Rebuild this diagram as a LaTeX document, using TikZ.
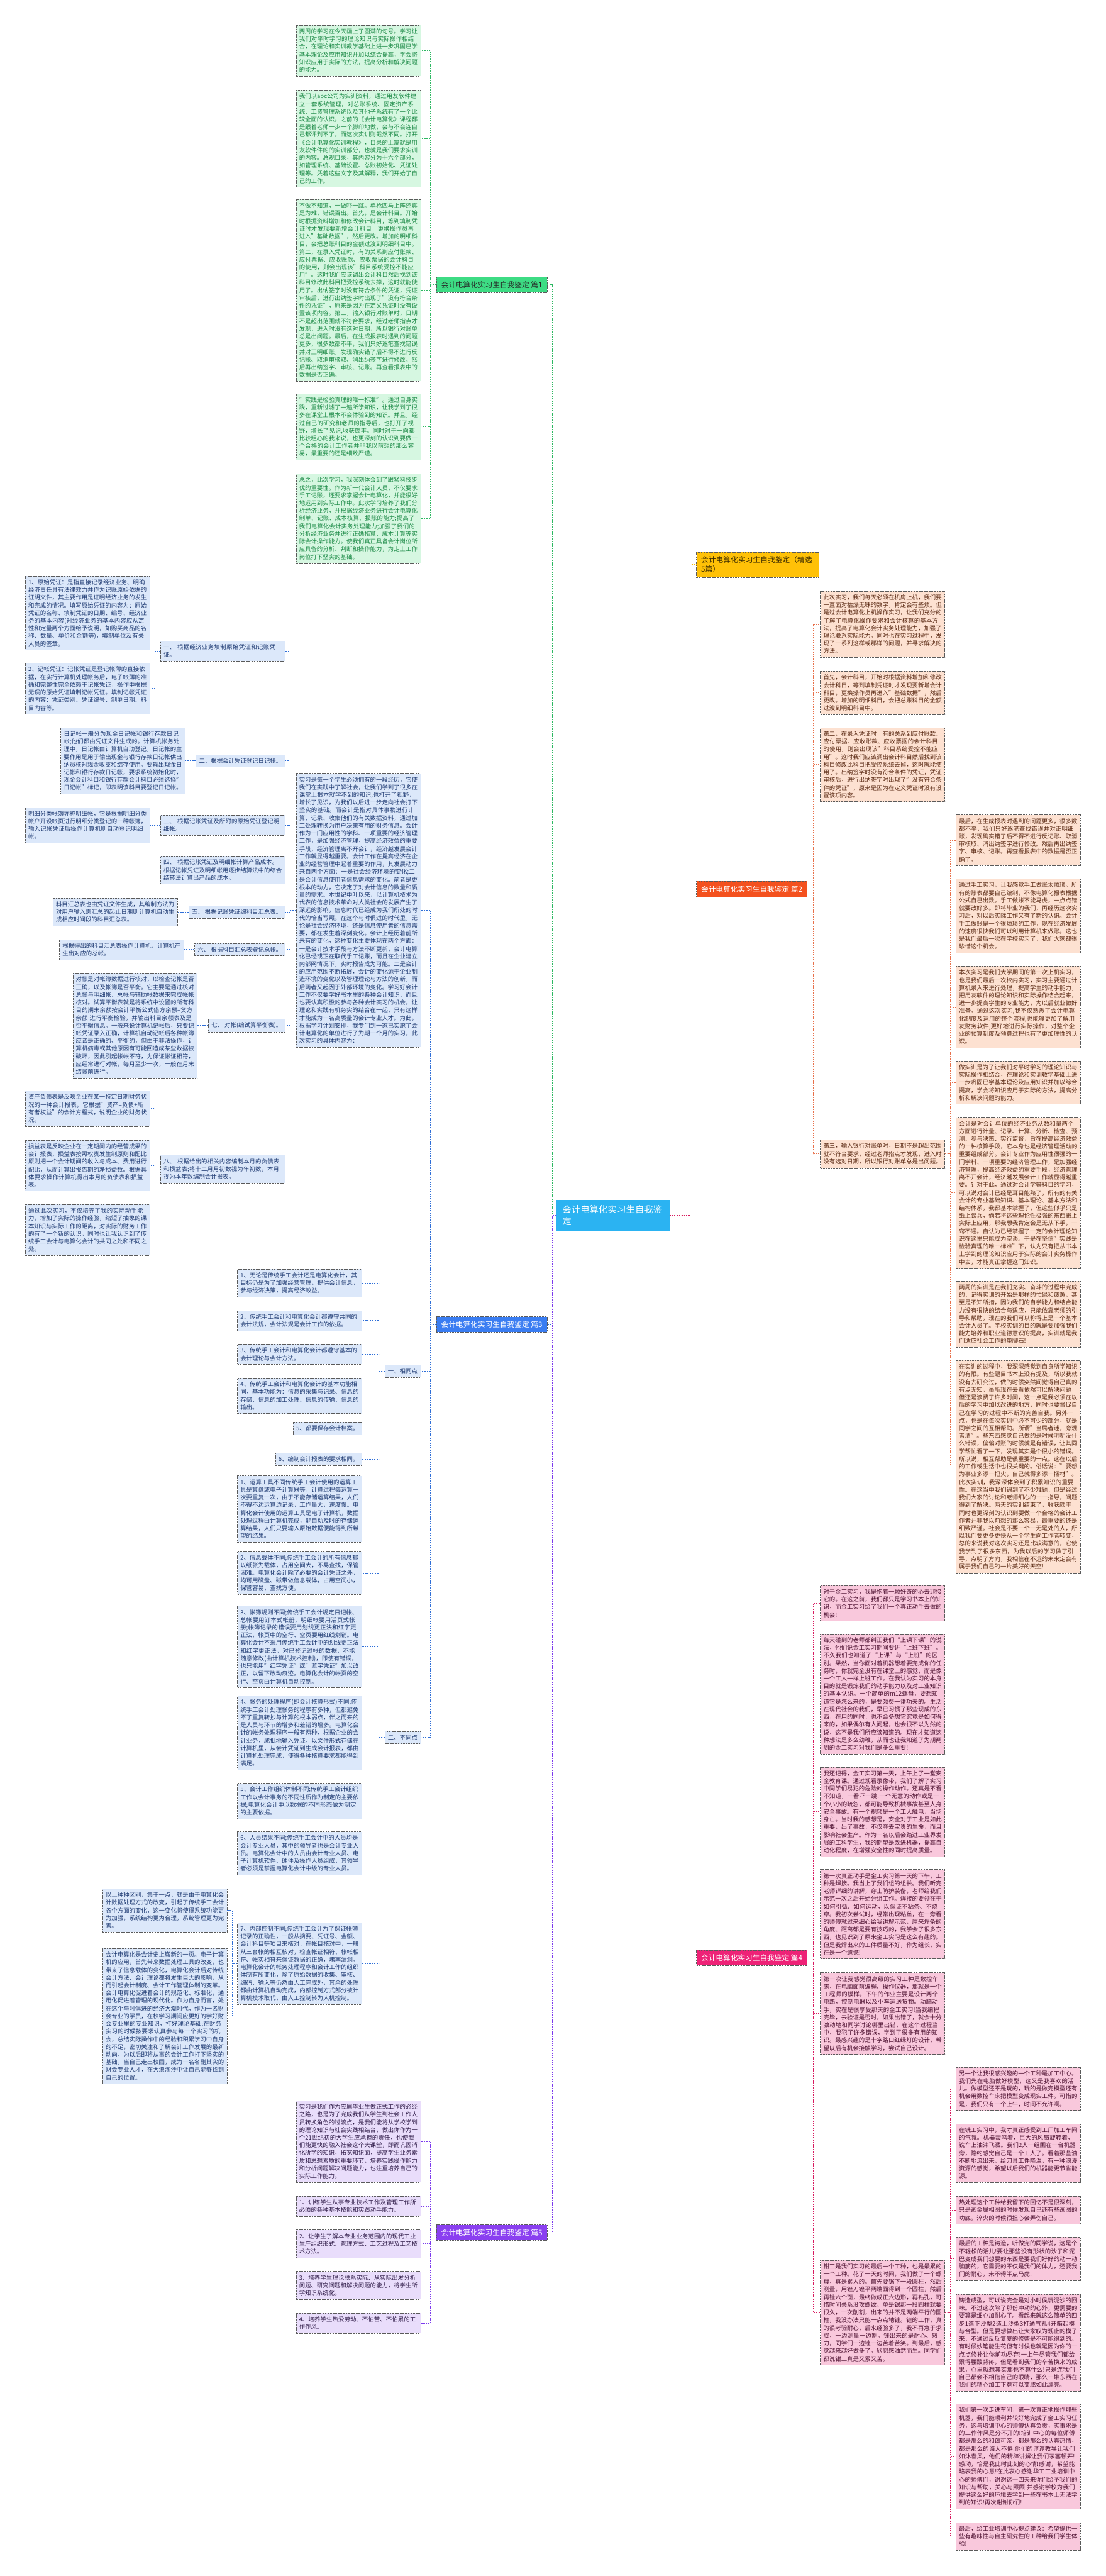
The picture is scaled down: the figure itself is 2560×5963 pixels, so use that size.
\documentclass[tikz,border=0pt]{standalone}
\usepackage{fontspec}
\setmainfont{Noto Sans CJK SC}
\XeTeXlinebreaklocale "zh"
\XeTeXlinebreakskip=0pt plus 1pt
\usetikzlibrary{positioning}
\definecolor{RootSky}{HTML}{2BB3F2}
\definecolor{EdgeGrey}{HTML}{5A5A5A}
\definecolor{GreenTopic}{HTML}{3DDC84}
\definecolor{GreenPale}{HTML}{D6F7E1}
\definecolor{GreenInk}{HTML}{1B8A46}
\definecolor{GreenWire}{HTML}{2DB862}
\definecolor{BlueTopic}{HTML}{3A7DF2}
\definecolor{BluePale}{HTML}{DCE8FA}
\definecolor{BlueInk}{HTML}{1F3B73}
\definecolor{BlueWire}{HTML}{2F6FD8}
\definecolor{VioTopic}{HTML}{8A3FF0}
\definecolor{VioPale}{HTML}{E9DDFB}
\definecolor{VioInk}{HTML}{2E1A47}
\definecolor{VioWire}{HTML}{7C3AED}
\definecolor{GoldTopic}{HTML}{FFC107}
\definecolor{GoldInk}{HTML}{3A2A00}
\definecolor{GoldWire}{HTML}{F2B705}
\definecolor{RustTopic}{HTML}{F4511E}
\definecolor{RustPale}{HTML}{FDE1D1}
\definecolor{RustInk}{HTML}{5B2A14}
\definecolor{RustWire}{HTML}{E8704A}
\definecolor{RoseTopic}{HTML}{EE2277}
\definecolor{RosePale}{HTML}{F9C8DC}
\definecolor{RoseInk}{HTML}{4D1030}
\definecolor{RoseWire}{HTML}{D81B60}
\tikzset{
  every node/.style={font=\fontsize{13.7}{17.8}\selectfont},
  leaf/.style={draw=EdgeGrey, dash pattern=on 4pt off 2pt, line width=0.8pt, inner xsep=7pt, inner ysep=8pt, align=left},
  wide/.style={text width=274pt},
  topic/.style={draw=EdgeGrey, dash pattern=on 4pt off 2pt, line width=0.8pt, font=\fontsize{17}{22}\selectfont, inner xsep=11pt, inner ysep=10pt, align=left},
  rootbox/.style={fill=RootSky, text=white, font=\fontsize{21}{28}\selectfont, inner xsep=14pt, inner ysep=12pt, text width=234pt, align=left},
  wire/.style={line width=1.3pt, dash pattern=on 3pt off 2.5pt},
  gleaf/.style={leaf, fill=GreenPale, text=GreenInk},
  bleaf/.style={leaf, fill=BluePale, text=BlueInk},
  vleaf/.style={leaf, fill=VioPale, text=VioInk},
  oleaf/.style={leaf, fill=RustPale, text=RustInk},
  pleaf/.style={leaf, fill=RosePale, text=RoseInk},
  gwire/.style={wire, draw=GreenWire},
  bwire/.style={wire, draw=BlueWire},
  vwire/.style={wire, draw=VioWire},
  ywire/.style={wire, draw=GoldWire},
  owire/.style={wire, draw=RustWire},
  pwire/.style={wire, draw=RoseWire},
}
\begin{document}
\begin{tikzpicture}[x=1pt,y=-1pt]
  \fill[white] (0,0) rectangle (2560,5963);
  \useasboundingbox (0,0) rectangle (2560,5963);
  % Root
  \node[rootbox] (root) at (1419,2813) {会计电算化实习生自我鉴定};
  % Topics
  \node[topic, fill=GreenTopic, text=black!85, anchor=east] (p1) at (1267,659) {会计电算化实习生自我鉴定 篇1};
  \node[topic, fill=BlueTopic, text=white, anchor=east] (p3) at (1267,3066) {会计电算化实习生自我鉴定 篇3};
  \node[topic, fill=VioTopic, text=white, anchor=east] (p5) at (1267,5168) {会计电算化实习生自我鉴定 篇5};
  \node[topic, fill=GoldTopic, text=GoldInk, text width=262pt, anchor=west] (pJ) at (1612,1307) {会计电算化实习生自我鉴定（精选5篇）};
  \node[topic, fill=RustTopic, text=white, anchor=west] (p2) at (1612,2058) {会计电算化实习生自我鉴定 篇2};
  \node[topic, fill=RoseTopic, text=white, anchor=west] (p4) at (1612,4532) {会计电算化实习生自我鉴定 篇4};
  \draw[gwire] (root.west) -- ++(-9,0) |- (p1.east);
  \draw[bwire] (root.west) -- ++(-9,0) |- (p3.east);
  \draw[vwire] (root.west) -- ++(-9,0) |- (p5.east);
  \draw[ywire] (root.east) -- ++(47,0) |- (pJ.west);
  \draw[owire] (root.east) -- ++(47,0) |- (p2.west);
  \draw[pwire] (root.east) -- ++(47,0) |- (p4.west);

  % Branch 1
  \node[gleaf, wide, anchor=east] (g1) at (974,117) {两周的学习在今天画上了圆满的句号。学习让我们对平时学习的理论知识与实际操作相结合，在理论和实训教学基础上进一步巩固已学基本理论及应用知识并加以综合提高，学会将知识应用于实际的方法，提高分析和解决问题的能力。};
  \node[gleaf, wide, anchor=east] (g2) at (974,321) {我们以abc公司为实训资料，通过用友软件建立一套系统管理，对总账系统、固定资产系统、工资管理系统以及其他子系统有了一个比较全面的认识。之前的《会计电算化》课程都是跟着老师一步一个脚印地做，会与不会连自己都评判不了，而这次实训则截然不同。打开《会计电算化实训教程》，目录的上篇就是用友软件件的的实训部分，也就是我们要求实训的内容。总观目录，其内容分为十六个部分，如管理系统、基础设置、总账初始化、凭证处理等。凭着这些文字及其解释，我们开始了自己的工作。};
  \node[gleaf, wide, anchor=east] (g3) at (974,672) {不做不知道，一做吓一跳。单枪匹马上阵还真是为难，错误百出。首先，是会计科目。开始时根据资料增加和修改会计科目，等到填制凭证时才发现要新增会计科目，更换操作员再进入"基础数据"，然后更改。增加的明细科目，会把总账科目的金额过渡到明细科目中。第二，在录入凭证时，有的关系到应付账款、应付票据、应收账款、应收票据的会计科目的使用，则会出现该"科目系统受控不能应用"。这时我们应该调出会计科目然后找到该科目修改此科目把受控系统去掉，这时就能使用了。出纳签字时没有符合条件的凭证，凭证审核后，进行出纳签字时出现了"没有符合条件的凭证"，原来是因为在定义凭证时没有设置该项内容。第三，输入银行对账单时，日期不是超出范围就不符合要求，经过老师指点才发现，进入时没有选对日期，所以银行对账单总是出问题。最后，在生成报表时遇到的问题更多，很多数都不平，我们只好逐笔查找错误并对正明细账，发现确实错了后不得不进行反记账、取消审核取、消出纳签字进行修改。然后再出纳签字、审核、记账。再查看报表中的数据是否正确。};
  \node[gleaf, wide, anchor=east] (g4) at (974,988) {"实践是检验真理的唯一标准"。通过自身实践，重新过滤了一遍所学知识，让我学到了很多在课堂上根本不会体验到的知识。并且，经过自己的研究和老师的指导后，也打开了视野，增长了见识,收获颇丰。同时对于一向都比较粗心的我来说，也更深刻的认识到要做一个合格的会计工作者并非我以前想的那么容易，最重要的还是细致严谨。};
  \node[gleaf, wide, anchor=east] (g5) at (974,1200) {总之，此次学习，我深刻体会到了跟紧科技步伐的重要性。作为新一代会计人员，不仅要求手工记账，还要求掌握会计电算化，并能很好地运用到实际工作中。此次学习培养了我们分析经济业务，并根据经济业务进行会计电算化制单、记账、成本核算、报账的能力;提高了我们电算化会计实务处理能力;加强了我们的分析经济业务并进行正确核算、成本计算等实际会计操作能力。使我们真正具备会计岗位所应具备的分析、判断和操作能力，为走上工作岗位打下坚实的基础。};
  \foreach \c in {g1,g2,g3,g4,g5}
    \draw[gwire] (p1.west) -- ++(-13,0) |- (\c.east);

  % Branch 3
  \node[bleaf, wide, anchor=east] (bA) at (974,2107) {实习是每一个学生必须拥有的一段经历，它使我们在实践中了解社会，让我们学到了很多在课堂上根本就学不到的知识,也打开了视野，增长了见识，为我们以后进一步走向社会打下坚实的基础。而会计是指对具体事物进行计算、记录、收集他们的有关数据资料，通过加工处理转换为用户决策有用的财务信息。会计作为一门应用性的学科、一项重要的经济管理工作，是加强经济管理，提高经济效益的重要手段，经济管理离不开会计，经济越发展会计工作就显得越重要。会计工作在提高经济在企业的经营管理中起着重要的作用，其发展动力来自两个方面：一是社会经济环境的变化;二是会计信息使用者信息需求的变化。前者是更根本的动力，它决定了对会计信息的数量和质量的需求。本世纪中叶以来，以计算机技术为代表的信息技术革命对人类社会的发展产生了深远的影响，信息时代已经成为我们所处的时代的恰当写照。在这个与时俱进的时代里，无论是社会经济环境，还是信息使用者的信息需要，都在发生着深刻变化。会计上经历着前所未有的变化，这种变化主要体现在两个方面：一是会计技术手段与方法不断更新，会计电算化已经或正在取代手工记账，而且在企业建立内部网情况下，实时报告成为可能。二是会计的应用范围不断拓展，会计的变化源于企业制造环境的变化以及管理理论与方法的创新，而后两者又起因于外部环境的变化。学习好会计工作不仅要学好书本里的各种会计知识，而且也要认真积极的参与各种会计实习的机会，让理论和实践有机务实的结合在一起，只有这样才能成为一名高质量的会计专业人才。为此，根据学习计划安排，我专门到一家已实施了会计电算化的单位进行了为期一个月的实习，此次实习的具体内容为：};
  \node[bleaf, anchor=east] (bS) at (974,3174) {一、相同点};
  \node[bleaf, anchor=east] (bD) at (974,4022) {二、不同点};
  \foreach \c in {bA,bS,bD}
    \draw[bwire] (p3.west) -- ++(-13,0) |- (\c.east);
  % Items of the practice
  \node[bleaf, wide, anchor=east] (b1) at (660,1507) {一、 根据经济业务填制原始凭证和记账凭证。};
  \node[bleaf, anchor=east] (b2) at (660,1761) {二、根据会计凭证登记日记帐。};
  \node[bleaf, wide, anchor=east] (b3) at (660,1910) {三、 根据记账凭证及所附的原始凭证登记明细帐。};
  \node[bleaf, wide, anchor=east] (b4) at (660,2014) {四、 根据记账凭证及明细帐计算产品成本。\\根据记帐凭证及明细帐用逐步结算法中的综合结转法计算出产品的成本。};
  \node[bleaf, anchor=east] (b5) at (660,2111) {五、 根据记账凭证编科目汇总表。};
  \node[bleaf, anchor=east] (b6) at (660,2198) {六、 根据科目汇总表登记总帐。};
  \node[bleaf, anchor=east] (b7) at (660,2374) {七、 对帐(编试算平衡表)。};
  \node[bleaf, wide, anchor=east] (b8) at (660,2706) {八、 根据给出的相关内容编制本月的负债表和损益表;将十二月月初数视为年初数，本月视为本年数编制会计报表。};
  \foreach \c in {b1,b2,b3,b4,b5,b6,b7,b8}
    \draw[bwire] (bA.west) -- ++(-13,0) |- (\c.east);
  \node[bleaf, wide, anchor=east] (b11) at (347,1419) {1、原始凭证：是指直接记录经济业务、明确经济责任具有法律效力并作为记账原始依据的证明文件，其主要作用是证明经济业务的发生和完成的情况。填写原始凭证的内容为：原始凭证的名称、填制凭证的日期、编号、经济业务的基本内容(对经济业务的基本内容应从定性和定量两个方面给予说明，如购买商品的名称、数量、单价和金额等)，填制单位及有关人员的签章。};
  \node[bleaf, wide, anchor=east] (b12) at (347,1594) {2、记帐凭证：记帐凭证是登记帐薄的直接依据，在实行计算机处理帐务后，电子帐薄的准确和完整性完全依赖于记帐凭证，操作中根据无误的原始凭证填制记帐凭证。填制记帐凭证的内容：凭证类别、凭证编号、制单日期、科目内容等。};
  \foreach \c in {b11,b12}
    \draw[bwire] (b1.west) -- ++(-12,0) |- (\c.east);
  \node[bleaf, wide, anchor=east] (b21) at (429,1761) {日记帐一般分为现金日记帐和银行存款日记帐;他们都由凭证文件生成的。计算机帐务处理中，日记帐由计算机自动登记，日记帐的主要作用是用于输出现金与银行存款日记帐供出纳员核对现金收支和结存使用。要输出现金日记帐和银行存款日记帐，要求系统初始化时，现金会计科目和银行存款会计科目必须选择"日记帐"标记，即表明该科目要登记日记帐。};
  \draw[bwire] (b2.west) -- (b21.east);
  \node[bleaf, wide, anchor=east] (b31) at (347,1910) {明细分类帐簿亦称明细帐，它是根据明细分类帐户开设帐页进行明细分类登记的一种帐簿，输入记帐凭证后操作计算机则自动登记明细帐。};
  \draw[bwire] (b3.west) -- (b31.east);
  \node[bleaf, wide, anchor=east] (b51) at (411,2111) {科目汇总表也由凭证文件生成，其编制方法为对用户输入需汇总的起止日期则计算机自动生成相应时间段的科目汇总表。};
  \draw[bwire] (b5.west) -- (b51.east);
  \node[bleaf, wide, anchor=east] (b61) at (426,2198) {根据得出的科目汇总表操作计算机，计算机产生出对应的总帐。};
  \draw[bwire] (b6.west) -- (b61.east);
  \node[bleaf, wide, anchor=east] (b71) at (457,2374) {对帐是对帐簿数据进行核对，以检查记帐是否正确，以及帐簿是否平衡。它主要是通过核对总帐与明细帐、总帐与辅助帐数据来完成帐帐核对。试算平衡表就是将系统中设置的所有科目的期末余额按会计平衡公式借方余额=贷方余额 进行平衡检验，并输出科目余额表及是否平衡信息。一般来说计算机记帐后，只要记帐凭证录入正确，计算机自动记帐后各种帐簿应该是正确的、平衡的，但由于非法操作，计算机病毒或其他原因有可能回造成某些数据被破坏，因此引起帐帐不符，为保证帐证相符，应经常进行对帐，每月至少一次，一般在月末结帐前进行。};
  \draw[bwire] (b7.west) -- (b71.east);
  \node[bleaf, wide, anchor=east] (b81) at (347,2566) {资产负债表是反映企业在某一特定日期财务状况的一种会计报表，它根据"资产=负债+所有者权益"的会计方程式，说明企业的财务状况。};
  \node[bleaf, wide, anchor=east] (b82) at (347,2698) {损益表是反映企业在一定期间内的经营成果的会计报表，损益表按照权责发生制原则和配比原则把一个会计期间的收入与成本、费用进行配比，从而计算出报告期的净损益数。根据具体要求操作计算机得出本月的负债表和损益表。};
  \node[bleaf, wide, anchor=east] (b83) at (347,2847) {通过此次实习，不仅培养了我的实际动手能力，增加了实际的操作经验，缩短了抽象的课本知识与实际工作的距离，对实际的财务工作的有了一个新的认识，同时也让我认识到了传统手工会计与电算化会计的共同之处和不同之处。};
  \foreach \c in {b81,b82,b83}
    \draw[bwire] (b8.west) -- ++(-12,0) |- (\c.east);
  % Common points
  \node[bleaf, wide, anchor=east] (s1) at (838,2970) {1、无论是传统手工会计还是电算化会计，其目标仍是为了加强经营管理，提供会计信息，参与经济决策，提高经济效益。};
  \node[bleaf, wide, anchor=east] (s2) at (838,3057) {2、传统手工会计和电算化会计都遵守共同的会计法规，会计法规是会计工作的依据。};
  \node[bleaf, wide, anchor=east] (s3) at (838,3135) {3、传统手工会计和电算化会计都遵守基本的会计理论与会计方法。};
  \node[bleaf, wide, anchor=east] (s4) at (838,3231) {4、传统手工会计和电算化会计的基本功能相同，基本功能为：信息的采集与记录、信息的存储、信息的加工处理、信息的传输、信息的输出。};
  \node[bleaf, anchor=east] (s5) at (838,3306) {5、都要保存会计档案。};
  \node[bleaf, anchor=east] (s6) at (838,3378) {6、编制会计报表的要求相同。};
  \foreach \c in {s1,s2,s3,s4,s5,s6}
    \draw[bwire] (bS.west) -- ++(-13,0) |- (\c.east);
  % Differences
  \node[bleaf, wide, anchor=east] (d1) at (838,3493) {1、运算工具不同传统手工会计使用的运算工具是算盘或电子计算器等，计算过程每运算一次要重复一次，由于不能存储运算结果，人们不得不边运算边记录，工作量大，速度慢。电算化会计使用的运算工具是电子计算机，数据处理过程由计算机完成，能自动及时的存储运算结果，人们只要输入原始数据便能得到所希望的结果。};
  \node[bleaf, wide, anchor=east] (d2) at (838,3641) {2、信息载体不同;传统手工会计的所有信息都以纸张为载体，占用空间大，不易查找，保管困难。电算化会计除了必要的会计凭证之外，均可用磁盘、磁带做信息载体，占用空间小，保管容易，查找方便。};
  \node[bleaf, wide, anchor=east] (d3) at (838,3812) {3、帐簿规则不同;传统手工会计规定日记帐、总帐要用订本式帐册，明细帐要用活页式帐册;帐簿记录的错误要用划线更正法和红字更正法，帐页中的空行、空页要用红线划销。电算化会计不采用传统手工会计中的划线更正法和红字更正法，对已登记过帐的数据，不能随意修改(由计算机技术控制)，即使有错误，也只能用"红字凭证"或"蓝字凭证"加以改正，以留下改动痕迹。电算化会计的帐页的空行、空页由计算机自动控制。};
  \node[bleaf, wide, anchor=east] (d4) at (838,4011) {4、帐务的处理程序(即会计核算形式)不同;传统手工会计处理帐务的程序有多种，但都避免不了重复转抄与计算的根本弱点，伴之而来的是人员与环节的增多和差错的增多。电算化会计的帐务处理程序一般有两种，根据企业的会计业务，成批地输入凭证，以文件形式存储在计算机里，从会计凭证到生成会计报表，都由计算机处理完成，使得各种核算要求都能得到满足。};
  \node[bleaf, wide, anchor=east] (d5) at (838,4169) {5、会计工作组织体制不同;传统手工会计组织工作以会计事务的不同性质作为制定的主要依据;电算化会计中以数据的不同形态做为制定的主要依据。};
  \node[bleaf, wide, anchor=east] (d6) at (838,4290) {6、人员结果不同;传统手工会计中的人员均是会计专业人员，其中的领导者也是会计专业人员。电算化会计中的人员由会计专业人员、电子计算机软件、硬件及操作人员组成，其领导者必须是掌握电算化会计中级的专业人员。};
  \node[bleaf, wide, anchor=east] (d7) at (838,4545) {7、内部控制不同;传统手工会计为了保证帐簿记录的正确性，一般从摘要、凭证号、金额、会计科目等项目来核对，在帐目核对中，一般从三套帐的相互核对，检查帐证相符、帐帐相符、帐实相符来保证数据的正确，堵塞漏洞。电算化会计的帐务处理程序和会计工作的组织体制有所变化，除了原始数据的收集、审核、编码、输入等仍然由人工完成外，其余的处理都由计算机自动完成，内部控制方式部分被计算机技术取代，由人工控制转为人机控制。};
  \foreach \c in {d1,d2,d3,d4,d5,d6,d7}
    \draw[bwire] (bD.west) -- ++(-13,0) |- (\c.east);
  \node[bleaf, wide, anchor=east] (d71) at (526,4422) {以上种种区别，集于一点，就是由于电算化会计数据处理方式的改变，引起了传统手工会计各个方面的变化，这一变化将使得系统功能更为加强，系统结构更为合理，系统管理更为完善。};
  \node[bleaf, wide, anchor=east] (d72) at (526,4667) {会计电算化是会计史上崭新的一页。电子计算机的应用，首先带来数据处理工具的改变，也带来了信息载体的变化，电算化会计后对传统会计方法、会计理论都将发生巨大的影响，从而引起会计制度、会计工作管理体制的变革。会计电算化促进着会计的规范化、标准化，通用化促进着管理的现代化。作为自身而言，处在这个与时俱进的经济大潮时代，作为一名财会专业的学员，在校学习期间应更好的学好财会专业里的专业知识，打好理论基础;在财务实习的时候按要求认真参与每一个实习的机会，总结实际操作中的经验和积累学习中自身的不足，密切关注和了解会计工作发展的最新动向，为以后即将从事的会计工作打下坚实的基础，当自己走出校园，成为一名名副其实的财会专业人才，在大浪淘沙中让自己能够找到自己的位置。};
  \foreach \c in {d71,d72}
    \draw[bwire] (d7.west) -- ++(-12,0) |- (\c.east);

  % Branch 5
  \node[vleaf, wide, anchor=east] (v1) at (974,4957) {实习是我们作为应届毕业生做正式工作的必经之路，也是为了完成我们从学生到社会工作人员转换角色的过渡点，是我们能将从学校学到的理论知识与社会实践相结合，做出你作为一个21世纪初的大学生应承担的责任，也使我们能更快的融入社会这个大课堂，即而巩固消化所学的知识，拓宽知识面，提高学生业务素质和思想素质的重要环节，培养实践操作能力和分析问题解决问题能力，也注重培养自己的实际工作能力。};
  \node[vleaf, wide, anchor=east] (v2) at (974,5107) {1、训练学生从事专业技术工作及管理工作所必须的各种基本技能和实践动手能力。};
  \node[vleaf, wide, anchor=east] (v3) at (974,5194) {2、让学生了解本专业业务范围内的现代工业生产组织形式、管理方式、工艺过程及工艺技术方法。};
  \node[vleaf, wide, anchor=east] (v4) at (974,5290) {3、培养学生理论联系实际、从实际出发分析问题、研究问题和解决问题的能力，将学生所学知识系统化。};
  \node[vleaf, wide, anchor=east] (v5) at (974,5378) {4、培养学生热爱劳动、不怕苦、不怕累的工作作风。};
  \foreach \c in {v1,v2,v3,v4,v5}
    \draw[vwire] (p5.west) -- ++(-13,0) |- (\c.east);

  % Branch 2
  \node[oleaf, wide, anchor=west] (c1) at (1899,1445) {此次实习，我们每天必须在机房上机，我们要一直面对枯燥无味的数字，肯定会有些烦。但是过会计电算化上机操作实习，让我们充分的了解了电算化操作要求和会计核算的基本方法，提高了电算化会计实务处理能力，加强了理论联系实际能力。同时也在实习过程中，发现了一系列这样或那样的问题，并寻求解决的方法。};
  \node[oleaf, wide, anchor=west] (c2) at (1899,1604) {首先，会计科目，开始时根据资料增加和修改会计科目，等到填制凭证时才发现要新增会计科目，更换操作员再进入"基础数据"，然后更改。增加的明细科目，会把总账科目的金额过渡到明细科目中。};
  \node[oleaf, wide, anchor=north west] (c3) at (1899,1684) {第二，在录入凭证时，有的关系到应付账款、应付票据、应收账款、应收票据的会计科目的使用，则会出现该"科目系统受控不能应用"。这时我们应该调出会计科目然后找到该科目修改此科目把受控系统去掉，这时就能使用了。出纳签字时没有符合条件的凭证，凭证审核后，进行出纳签字时出现了"没有符合条件的凭证"，原来是因为在定义凭证时没有设置该项内容。};
  \node[oleaf, wide, anchor=west] (c4) at (1899,2671) {第三，输入银行对账单时，日期不是超出范围就不符合要求，经过老师指点才发现，进入时没有选对日期，所以银行对账单总是出问题。};
  \foreach \c in {c1,c2,c3,c4}
    \draw[owire] (p2.east) -- ++(14,0) |- (\c.west);
  \node[oleaf, wide, anchor=west] (t1) at (2213,1945) {最后，在生成报表时遇到的问题更多，很多数都不平，我们只好逐笔查找错误并对正明细账，发现确实错了后不得不进行反记账、取消审核取、消出纳签字进行修改。然后再出纳签字、审核、记账。再查看报表中的数据是否正确了。};
  \node[oleaf, wide, anchor=west] (t2) at (2213,2120) {通过手工实习，让我感觉手工做账太烦琐。所有的账表都要自己编制，不像电算化报表根据公式自己出数。手工做账不能马虎，一点点错就要改好多。即将毕业的我们，再经历这次实习后，对以后实际工作又有了新的认识。会计手工做账是一个很烦琐的工作，现在经济发展的速度很快我们可以利用计算机来做账。这也是我们最后一次在学校实习了，我们大家都很珍惜这个机会。};
  \node[oleaf, wide, anchor=west] (t3) at (2213,2331) {本次实习是我们大学期间的第一次上机实习，也是我们最后一次校内实习，实习主要通过计算机录入来进行处理，提高学生的动手能力，把用友软件的理论知识和实际操作结合起来，进一步提高学生的专业能力，为以后就业做好准备。通过这次实习,我不仅熟悉了会计电算化制度及运用的整个流程,也能够更加了解用友财务软件,更好地进行实际操作，对整个企业的预算制度及预算过程也有了更加理性的认识。};
  \node[oleaf, wide, anchor=west] (t4) at (2213,2506) {做实训是为了让我们对平时学习的理论知识与实际操作相结合，在理论和实训教学基础上进一步巩固已学基本理论及应用知识并加以综合提高，学会将知识应用于实际的方法，提高分析和解决问题的能力。};
  \node[oleaf, wide, anchor=west] (t5) at (2213,2761) {会计是对会计单位的经济业务从数和量两个方面进行计量、记录、计算、分析、检查、预测、参与决策、实行监督，旨在提高经济效益的一种核算手段，它本身也是经济管理活动的重要组成部分。会计专业作为应用性很强的一门学科、一项重要的经济管理工作，是加强经济管理，提高经济效益的重要手段，经济管理离不开会计，经济越发展会计工作就显得越重要。针对于此，通过对会计学等科目的学习，可以说对会计已经是耳目能熟了，所有的有关会计的专业基础知识、基本理论、基本方法和结构体系，我都基本掌握了，但这些似乎只是纸上谈兵，倘若将这些理论性极强的东西搬上实际上应用，那我想我肯定会是无从下手，一窍不通。自认为已经掌握了一定的会计理论知识在这里只能成为空谈。于是在坚信"实践是检验真理的唯一标准"下，认为只有把从书本上学到的理论知识应用于实际的会计实务操作中去，才能真正掌握这门知识。};
  \node[oleaf, wide, anchor=west] (t6) at (2213,3042) {两周的实训是在我们充实、奋斗的过程中完成的，记得实训的开始是那样的忙碌和疲惫，甚至是不知所措，因为我们的自学能力和结合能力没有很快的结合与适应，只能依靠老师的引导和帮助，现在的我们可以称得上是一个基本会计人员了。学校实训的目的就是要加强我们能力培养和职业道德意识的提高，实训就是我们适应社会工作的垫脚石!};
  \node[oleaf, wide, anchor=west] (t7) at (2213,3395) {在实训的过程中，我深深感觉到自身所学知识的有限。有些题目书本上没有提及，所以我就没有去研究过，做的时候突然间觉得自己真的有点无知，虽所现在去看依然可以解决问题，但还是浪费了许多时间，这一点是我必须在以后的学习中加以改进的地方，同时也要督促自己在学习的过程中不断的完善自我。另外一点，也是在每次实训中必不可少的部分，就是同学之间的互相帮助。所谓"当局者迷，旁观者清"。些东西感觉自己做的是时候明明没什么错误，偏偏对账的时候就是有错误，让其同学帮忙看了一下，发现其实是个很小的错误。所以说，相互帮助是很重要的一点。这在以后的工作或生活中也很关键的。俗话说："要想为事业多添一把火，自己就得多添一捆材"。此次实训，我深深体会到了积累知识的重要性。在这当中我们遇到了不少难题，但是经过我们大家的讨论和老师细心的一一指导，问题得到了解决。两天的实训结束了，收获颇丰，同时也更深刻的认识到要做一个合格的会计工作者并非我以前想的那么容易，最重要的还是细致严谨。社会是不要一个一无是处的人，所以我们要更多更快从一个学生向工作者转变，总的来说我对这次实习还是比较满意的，它使我学到了很多东西，为我以后的学习做了引导，点明了方向，我相信在不远的未来定会有属于我们自己的一片美好的天空!};
  \foreach \c in {t1,t2,t3,t4,t5,t6,t7}
    \draw[owire] (c4.east) -- ++(13,0) |- (\c.west);

  % Branch 4
  \node[pleaf, wide, anchor=west] (e1) at (1899,3711) {对于金工实习，我是抱着一颗好奇的心去迎接它的。在这之前，我们都只是学习书本上的知识，而金工实习给了我们一个真正动手去做的机会!};
  \node[pleaf, wide, anchor=west] (e2) at (1899,3921) {每天碰到的老师都纠正我们“上课下课”的说法，他们说金工实习期间要讲“上班下班”。不久我们也知道了“上课”与“上班”的区别。果然，当你面对着机器想着要完成你的任务时，你就完全没有在课堂上的感觉，而是像一个工人一样上班工作。在我认为实习的本身目的就是锻炼我们的动手能力以及对工业知识的基本认识。一个简单的m12螺母，要想知道它是怎么来的，是要颇费一番功夫的。生活在现代社会的我们，早已习惯了那些现成的东西，在用的同时，也不会多想它究竟是如何得来的，如果偶尔有人问起，也会很不以为然的说，这不是我们所应该知道的。现在才知道这种想法是多么幼稚，从而也让我知道了为期两周的金工实习对我们是多么重要!};
  \node[pleaf, wide, anchor=west] (e3) at (1899,4194) {我还记得，金工实习第一天，上午上了一堂安全教育课。通过观看录像带，我们了解了实习中同学们易犯的危险的操作动作。还真是不看不知道，一看吓一跳!一个无意的动作或是一个小小的疏忽，都可能导致机械事故甚至人身安全事故。有一个视频是一个工人触电，当场身亡。当时我的感想是，安全对于工业是如此重要，出了事故，不仅夺去宝贵的生命，而且影响社会生产。作为一名以后会踏进工业界发展的工科学生，我的期望是改进机器，提高自动化程度，在增强安全性的同时提高质量。};
  \node[pleaf, wide, anchor=west] (e4) at (1899,4431) {第一次真正动手是金工实习第一天的下午，工种是焊接。我当上了我们组的组长。我们听完老师详细的讲解，穿上防护装备，老师给我们示范一次之后开始分组工作。焊接的要领在于如何引弧、如何运动，以保证不粘条、不烧穿。我初次尝试时，经常出现粘丝，在一旁看的师傅就过来细心给我讲解示范，原来焊条的角度、距离都是要有技巧的，我学会了很多东西，也见识到了原来金工实习是这么有趣的。但是我焊出来的工件质量不好，作为组长，实在是一个遗憾!};
  \node[pleaf, wide, anchor=north west] (e5) at (1899,4566) {第一次让我感觉很高级的实习工种是数控车床，在电脑面前编程、操作仪器，那就是一个工程师的模样。下午的作业主要是设计两个电路，控制电器以及小车运送货物。动脑动手，实在是很享受那天的金工实习!当我编程完毕，去验证是否时，如果出错了，就会十分激动地和同学讨论哪里出错，在这个过程当中，我犯了许多错误，学到了很多有用的知识。最感兴趣的是十字路口红绿灯的设计，希望以后有机会接触学习，尝试自己设计。};
  \node[pleaf, wide, anchor=west] (e6) at (1899,5353) {钳工是我们实习的最后一个工种，也是最累的一个工种。花了一天的时间，我们做了一个螺母，真是累人的。首先要锯下一段圆柱，然后测量，用锉刀锉平两端面得到一个圆柱，然后再锉六个面，最终做成正六边形，再钻孔，可惜时间关系没攻螺纹。单是锯那一段圆柱就要很久，一次削割，出来的并不是两端平行的圆柱，我没办法只能一点点地锉。锉的工作，真的很考验耐心，后来经验多了，我不再急于求成，一边测量一边割。锉出来的是耐心、毅力，同学们一边锉一边苦着苦笑。到最后，感觉越来越好做多了。欣慰感油然而生。同学们都说钳工真是又累又苦。};
  \foreach \c in {e1,e2,e3,e4,e5,e6}
    \draw[pwire] (p4.east) -- ++(14,0) |- (\c.west);
  \node[pleaf, wide, anchor=west] (f1) at (2213,4835) {另一个让我很感兴趣的一个工种是加工中心。我们先在电脑做好模型，这又是我喜欢的活儿。做模型还不是玩的，玩的是做完模型还有机会用数控车床把模型变成现实工件。可惜的是，我们只有一个上午，时间不允许啊。};
  \node[pleaf, wide, anchor=west] (f2) at (2213,4984) {在铣工实习中，我才真正感受到工厂加工车间的气氛。机器轰鸣着，巨大的风扇旋转着，铣车上油沫飞溅。我们2人一组围在一台机器旁，隐约感觉自己是一个工人了。看着那些油不断地流出来，给刀具工件降温，有一种浪漫资源的感觉，希望以后我们的机器能更节省能源。};
  \node[pleaf, wide, anchor=west] (f3) at (2213,5116) {热处理这个工种给我留下的回忆不是很深刻，只是画金属相图的时候发现自己还有些画图的功底。淬火的时候很担心会弄伤自己。};
  \node[pleaf, wide, anchor=west] (f4) at (2213,5229) {最后的工种是铸造，听做完的同学说，这是个不轻松的活儿!要让那些没有形状的沙子和泥巴变成我们想要的东西是要我们好好的动一动脑筋的，它需要的不仅是我们的体力，还要我们的耐心，来不得半点马虎!};
  \node[pleaf, wide, anchor=west] (f5) at (2213,5423) {铸造成型，可以说完全是对小时侯玩泥沙的回味。不过这次除了那份冲动的心外，更需要的要算是细心加耐心了。看起来就这么简单的四步1造下沙型2造上沙型3打通气孔4开箱起模与合型。但是要想做出让大家叹为观止的模子来，不通过反反复复的修整是不可能得到的。有时候妙笔能生花但有时候也就是因为你的一点点修补让你前功尽弃!一上午尽管我们都给累得腰酸背疼，但是看到我们的辛苦换来的成果，心里就想其实那也不算什么!只是连我们自己都会不相信自己的眼睛，那么一堆东西在我们的精心加工下竟可以变成如此漂亮。};
  \node[pleaf, wide, anchor=west] (f6) at (2213,5686) {我们第一次走进车间，第一次真正地操作那些机器，我们能顺利并较好地完成了金工实习任务，这与培训中心的师傅认真负责，实事求是的工作作风是分不开的!培训中心的每位师傅都是那么的和蔼可亲，都是那么的认真热情，都是那么的诲人不倦!他们的谆谆教导让我们如沐春风，他们的精辟讲解让我们茅塞顿开!感动，恰是我此时此刻的心情!感谢，希望能略表我的心意!在此衷心感谢华工工业培训中心的师傅们，谢谢这十四天来你们给予我们的知识与帮助，关心与照顾!并感谢学校为我们提供这么好的环境去学到一些在书本上无法学到的知识!再次谢谢你们!};
  \node[pleaf, wide, anchor=west] (f7) at (2213,5871) {最后，给工业培训中心提点建议：希望提供一些有趣味性与自主研究性的工种给我们学生体验!};
  \foreach \c in {f1,f2,f3,f4,f5,f6,f7}
    \draw[pwire] (e6.east) -- ++(13,0) |- (\c.west);
\end{tikzpicture}
\end{document}
